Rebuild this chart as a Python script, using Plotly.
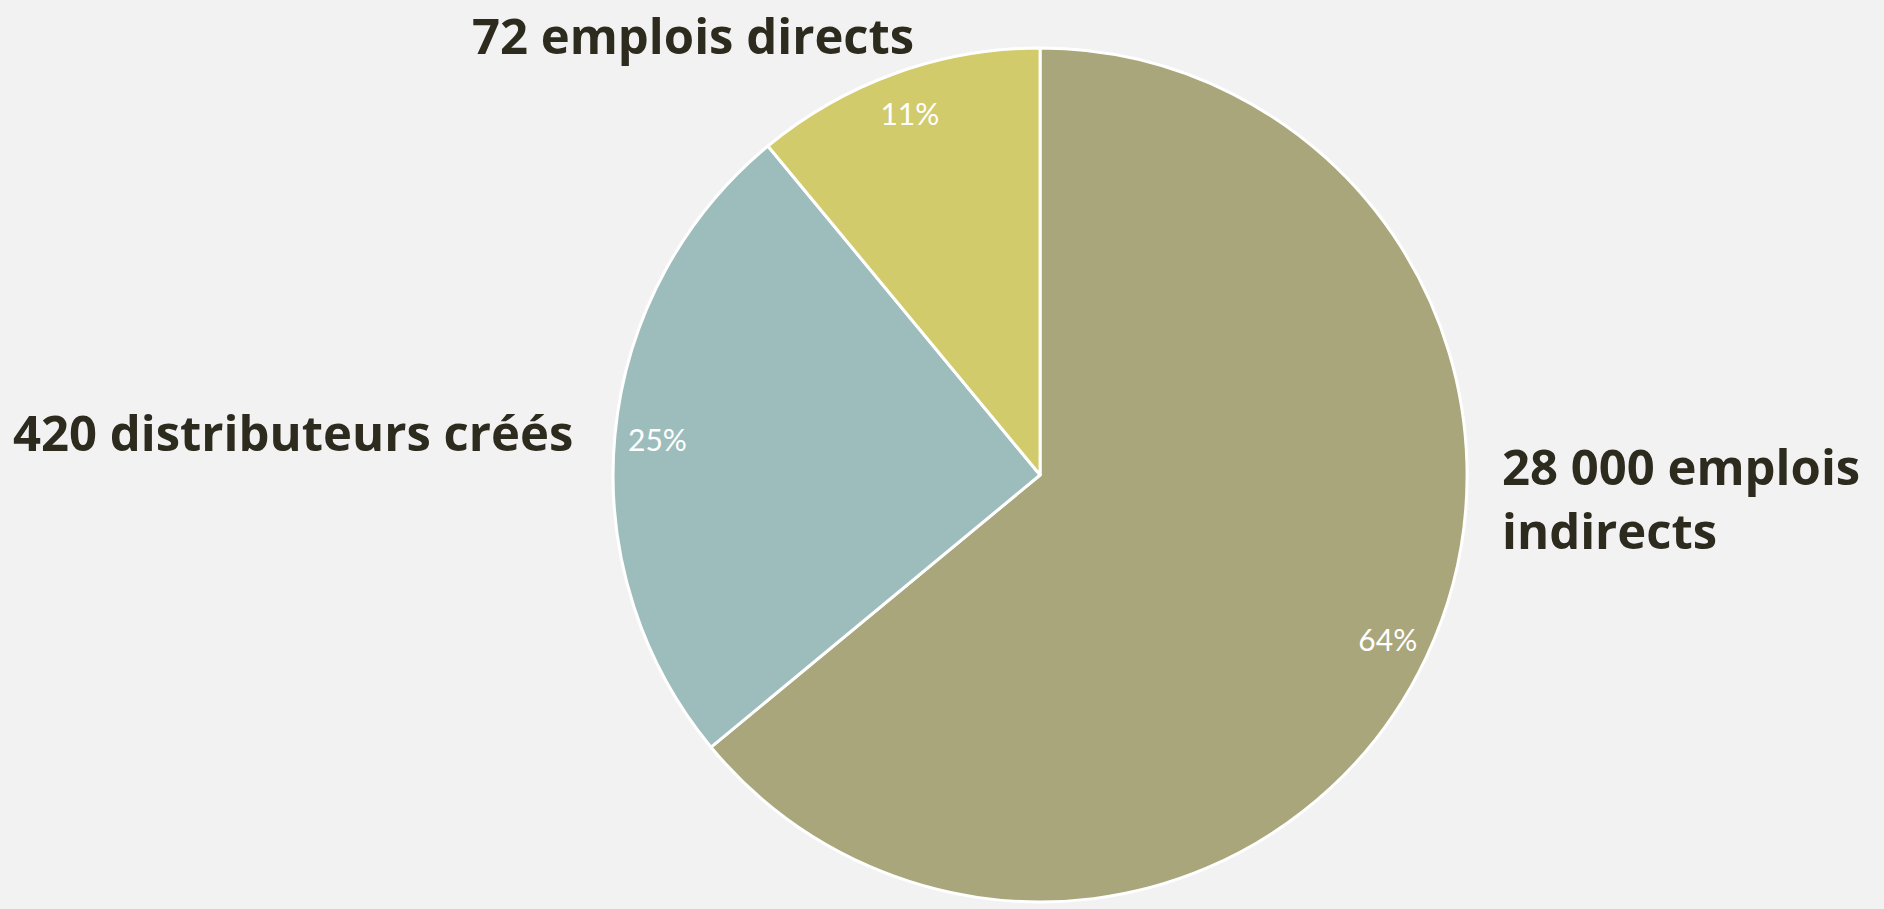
import plotly.graph_objects as go

# Data
categories = ["28 000 emplois<br>indirects", "420 distributeurs créés", "72 emplois directs"]
values = [64, 25, 11]
colors = ["#A9A67B", "#9DBDBD", "#D2CB6C"]

W, H = 1884, 909
dom_x = [0.3254, 0.7787]
dom_y = [0.0077, 0.9472]

fig = go.Figure()
# Main pie (slices)
fig.add_trace(go.Pie(
    labels=categories, values=values, sort=False, direction="clockwise", rotation=0,
    marker=dict(colors=colors, line=dict(color="white", width=3)),
    textinfo="none", hoverinfo="label+percent", showlegend=False,
    domain=dict(x=dom_x, y=dom_y),
))
# Overlay ring carrying percentage labels near the outer edge
fig.add_trace(go.Pie(
    labels=categories, values=values, sort=False, direction="clockwise", rotation=0,
    hole=0.8,
    marker=dict(colors=["rgba(0,0,0,0)"] * len(values), line=dict(width=0)),
    textinfo="percent", textposition="inside", insidetextorientation="horizontal",
    texttemplate="%{percent:.0%}",
    textfont=dict(family="Century Gothic, Lato, sans-serif", size=30, color="white"),
    hoverinfo="skip", showlegend=False,
    domain=dict(x=dom_x, y=dom_y),
))

label_font = dict(family="Open Sans, Segoe UI, sans-serif", size=49, color="#2D2A1E")
ann_pos = [
    dict(x=1500 / W, y=1 - 498 / H, xanchor="left", yanchor="middle", align="left"),
    dict(x=293 / W, y=1 - 432 / H, xanchor="center", yanchor="middle", align="center"),
    dict(x=693 / W, y=1.0, xanchor="center", yanchor="top", align="center"),
]
annotations = []
for name, p in zip(categories, ann_pos):
    annotations.append(dict(text="<b>" + name + "</b>", xref="paper", yref="paper",
                            showarrow=False, font=label_font, **p))

fig.update_layout(
    width=W, height=H,
    margin=dict(l=0, r=0, t=0, b=0),
    paper_bgcolor="#F2F2F2", plot_bgcolor="#F2F2F2",
    annotations=annotations,
)
fig.write_html("out.html", config={"displayModeBar": False},
               post_script="document.body.style.margin='0';")
